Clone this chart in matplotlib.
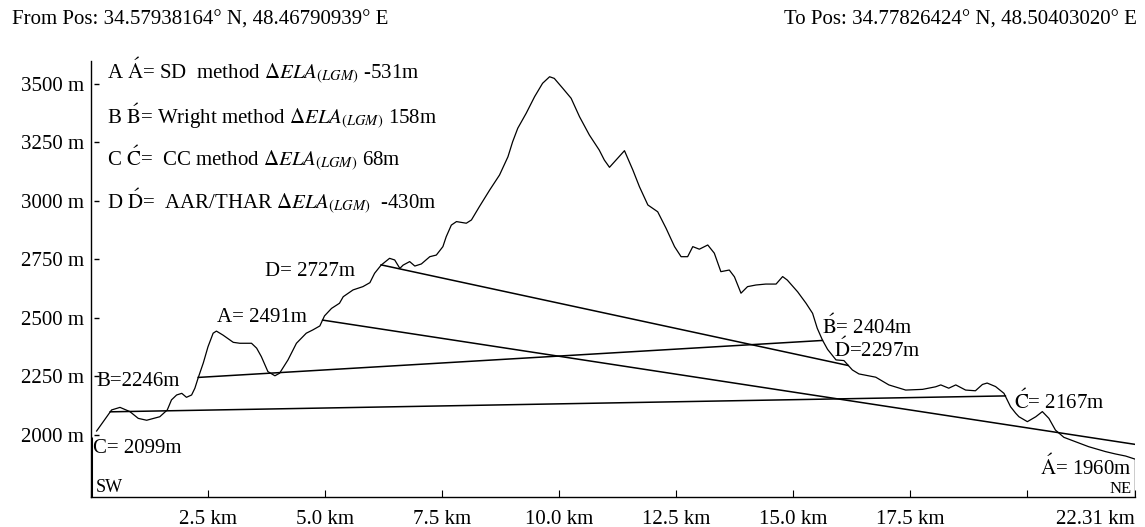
import matplotlib
matplotlib.use("Agg")
import matplotlib.pyplot as plt

plt.rcParams["font.family"] = ["Liberation Serif", "DejaVu Serif"]
plt.rcParams["mathtext.fontset"] = "stix"

# elevation profile SW -> NE
dist_km = [0.12, 0.44, 0.62, 0.83, 1.01, 1.19, 1.47, 1.63, 1.72, 1.83, 1.94, 2.04,
           2.15, 2.22, 2.29, 2.40, 2.50, 2.61, 2.68, 2.82, 3.04, 3.18, 3.43, 3.54,
           3.64, 3.78, 3.93, 4.03, 4.21, 4.39, 4.60, 4.74, 4.89, 4.99, 5.14, 5.31,
           5.39, 5.60, 5.81, 5.96, 6.06, 6.20, 6.38, 6.49, 6.60, 6.67, 6.81, 6.92,
           7.06, 7.24, 7.38, 7.52, 7.59, 7.70, 7.81, 8.02, 8.13, 8.30, 8.52, 8.73,
           8.91, 9.01, 9.12, 9.30, 9.48, 9.65, 9.80, 9.90, 10.08, 10.26, 10.44, 10.65,
           10.86, 10.97, 11.08, 11.22, 11.40, 11.58, 11.72, 11.90, 12.11, 12.29, 12.47,
           12.61, 12.75, 12.86, 13.00, 13.18, 13.32, 13.46, 13.64, 13.75, 13.89, 14.03,
           14.21, 14.42, 14.64, 14.78, 14.88, 15.10, 15.28, 15.42, 15.52, 15.63, 15.74,
           15.92, 16.09, 16.27, 16.41, 16.77, 17.05, 17.41, 17.77, 18.05, 18.16, 18.33,
           18.48, 18.69, 18.90, 19.05, 19.15, 19.33, 19.51, 19.65, 19.76, 19.83, 20.01,
           20.19, 20.33, 20.47, 20.61, 20.79, 21.04, 21.32, 21.68, 21.89, 22.11, 22.31]
elev_m = [2017, 2107, 2118, 2100, 2071, 2063, 2078, 2107, 2150, 2171, 2178, 2161,
          2171, 2200, 2244, 2308, 2377, 2435, 2444, 2427, 2396, 2392, 2392, 2371,
          2335, 2271, 2253, 2264, 2321, 2392, 2435, 2449, 2466, 2509, 2541, 2563,
          2591, 2620, 2634, 2651, 2691, 2726, 2755, 2748, 2712, 2726, 2741, 2722,
          2731, 2762, 2769, 2805, 2847, 2897, 2912, 2905, 2919, 2976, 3047, 3111,
          3189, 3253, 3311, 3375, 3446, 3503, 3531, 3524, 3482, 3439, 3360, 3282,
          3218, 3175, 3144, 3175, 3215, 3132, 3061, 2983, 2954, 2883, 2805,
          2762, 2762, 2805, 2794, 2812, 2777, 2698, 2705, 2676, 2606, 2634,
          2641, 2645, 2645, 2677, 2662, 2612, 2563, 2520, 2456, 2406, 2366,
          2321, 2318, 2278, 2261, 2247, 2214, 2192, 2195, 2206, 2214, 2200,
          2214, 2192, 2189, 2216, 2222, 2207, 2178, 2121, 2093, 2078, 2057,
          2078, 2100, 2071, 2021, 1990, 1971, 1950, 1929, 1919, 1910, 1897]

# ELA reconstruction lines (X -> X')
line_names = ["A", "B", "C", "D"]
methods = ["SD  method", "Wright method", " CC method", " AAR/THAR"]
start_km = [4.95, 2.29, 0.41, 6.20]
start_m = [2491, 2246, 2099, 2727]
end_km = [22.31, 15.63, 19.54, 16.18]
end_m = [1960, 2404, 2167, 2297]

y_ticks = [2000, 2250, 2500, 2750, 3000, 3250, 3500]
x_ticks = [0, 2.5, 5.0, 7.5, 10.0, 12.5, 15.0, 17.5, 20.0, 22.31]
x_labels = ["", "2.5 km", "5.0 km", "7.5 km", "10.0 km", "12.5 km",
            "15.0 km", "17.5 km", "", "22.31 km"]

fig = plt.figure(figsize=(11.45, 5.27), dpi=100)
ax = fig.add_axes([91 / 1145, 1 - 497 / 527, 1044 / 1145, 436.4 / 527])
ax.set_xlim(0, 22.31)
ax.set_ylim(1735, 3600)

ax.plot(dist_km, elev_m, color="black", lw=0.9)
for i in range(4):
    ax.plot([start_km[i], end_km[i]], [start_m[i], end_m[i]], color="black", lw=1.1)

# edges of the section
ax.vlines(0, 1735, 1990, color="black", lw=2.2)
ax.vlines(dist_km[-1], 1735, elev_m[-1], color="black", lw=1.0)

for s in ["top", "right"]:
    ax.spines[s].set_visible(False)
ax.spines["left"].set_linewidth(1.0)
ax.spines["bottom"].set_linewidth(1.0)

ax.set_yticks(y_ticks)
ax.set_yticklabels([f"{v} m" for v in y_ticks], fontsize=15)
ax.tick_params(axis="y", length=0, pad=5)
ax.hlines(y_ticks, 0.003, 0.008, transform=ax.get_yaxis_transform(),
          color="black", lw=1.0)

ax.set_xticks(x_ticks)
ax.set_xticklabels(x_labels, fontsize=15)
ax.tick_params(axis="x", direction="in", length=5, pad=9)
ax.get_xticklabels()[-1].set_ha("right")

acute = lambda c: r"$\mathrm{\acute{" + c + "}}$"

# point labels
tsize = 15
ax.text(2.69, start_m[0] + 13, f"A= {start_m[0]}m", fontsize=tsize, va="center")
ax.text(3.71, start_m[3] - 29, f"D= {start_m[3]}m", fontsize=tsize, va="center")
ax.text(0.12, start_m[1] - 18, f"B={start_m[1]}m", fontsize=tsize, va="center")
ax.text(0.05, start_m[2] - 156, f"C= {start_m[2]}m", fontsize=tsize, va="center")
ax.text(15.62, end_m[1] + 59, acute("B") + f"= {end_m[1]}m", fontsize=tsize, va="center")
ax.text(15.88, end_m[3] + 66, acute("D") + f"={end_m[3]}m", fontsize=tsize, va="center")
ax.text(19.72, end_m[2] - 25, acute("C") + f"= {end_m[2]}m", fontsize=tsize, va="center")
ax.text(22.24, end_m[0] - 100, acute("A") + f"= {end_m[0]}m", fontsize=tsize,
        va="center", ha="right")
ax.text(0.11, 1777, "SW", fontsize=13, va="center")
ax.text(22.24, 1770, "NE", fontsize=12, va="center", ha="right")

# method summary in the upper left
legend_y = [70.7, 116.7, 158, 201.7]
for i in range(4):
    n = line_names[i]
    d = end_m[i] - start_m[i]
    gap = "  " if d < 0 and i == 3 else " "
    s = (f"{n} " + acute(n) + f"= {methods[i]} " + r"$\Delta ELA_{(LGM)}$"
         + f"{gap}{d}m")
    fig.text(107 / 1145, 1 - legend_y[i] / 527, s, fontsize=15, va="center")

fig.text(12 / 1145, 1 - 20 / 527, "From Pos: 34.57938164\u00b0 N, 48.46790939\u00b0 E",
         fontsize=15, va="center")
fig.text(1137 / 1145, 1 - 20 / 527, "To Pos: 34.77826424\u00b0 N, 48.50403020\u00b0 E",
         fontsize=15, va="center", ha="right")

fig.savefig("out.png", dpi=100)
